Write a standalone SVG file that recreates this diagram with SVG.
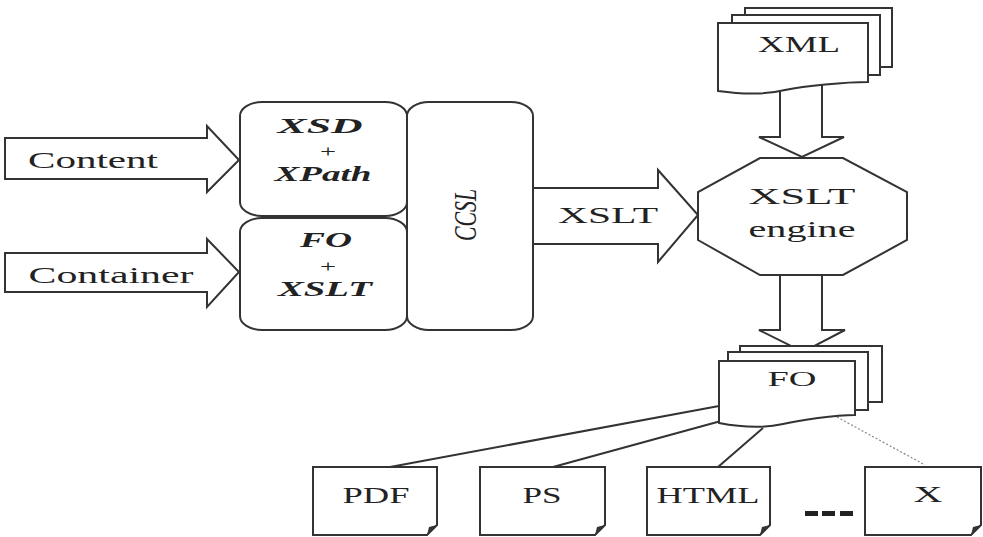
<svg xmlns="http://www.w3.org/2000/svg" width="983" height="537" viewBox="0 0 983 537">
<style>
.s{fill:#fff;stroke:#333;stroke-width:2;stroke-linejoin:miter}
.t{font-family:"Liberation Serif","Times New Roman",serif;fill:#222;text-anchor:middle}
.bi{font-weight:bold;font-style:italic}
.ln{fill:none;stroke:#333;stroke-width:2}
</style>
<rect width="983" height="537" fill="#fff"/>
<g id="connectors">
<path class="s" d="M5,138 H207 V126 L239,160 L207,192 V179 H5 Z"/>
<path class="s" d="M5,253 H207 V239 L239,272 L207,307 V292 H5 Z"/>
<path class="s" d="M533,188 H658 V170 L698,215 L658,262 V244 H533"/>
<path class="s" d="M780,85 V137 H759 L802,157 L844,137 H822 V85"/>
<path class="s" d="M780,275 V330 H759 L803,352 L845,330 H822 V275"/>
<line class="ln" x1="719" y1="406" x2="390" y2="467"/>
<line class="ln" x1="721" y1="421" x2="553" y2="467"/>
<line class="ln" x1="763" y1="428" x2="718" y2="467"/>
<line x1="837" y1="417" x2="925" y2="465" stroke="#888" stroke-width="1.2" stroke-dasharray="2,2"/>
</g>
<g id="content"><text class="t" x="93" y="168" font-size="24" textLength="130" lengthAdjust="spacingAndGlyphs">Content</text></g>
<g id="container"><text class="t" x="111" y="283" font-size="24" textLength="165" lengthAdjust="spacingAndGlyphs">Container</text></g>
<g id="xsd">
<rect class="s" x="240" y="102" width="167" height="114" rx="22" ry="14"/>
<text class="t bi" x="320" y="133" font-size="21" textLength="85" lengthAdjust="spacingAndGlyphs">XSD</text>
<text class="t" x="328" y="157" font-size="16" textLength="16" lengthAdjust="spacingAndGlyphs">+</text>
<text class="t bi" x="323" y="181" font-size="20" textLength="97" lengthAdjust="spacingAndGlyphs">XPath</text>
</g>
<g id="fo-xslt">
<rect class="s" x="240" y="218" width="167" height="112" rx="22" ry="14"/>
<text class="t bi" x="326" y="247" font-size="21" textLength="52" lengthAdjust="spacingAndGlyphs">FO</text>
<text class="t" x="328" y="272" font-size="16" textLength="16" lengthAdjust="spacingAndGlyphs">+</text>
<text class="t bi" x="325" y="296" font-size="20" textLength="94" lengthAdjust="spacingAndGlyphs">XSLT</text>
</g>
<g id="ccsl">
<rect class="s" x="407" y="102" width="126" height="228" rx="22" ry="14"/>
<text class="t" font-style="italic" font-size="20" transform="translate(476,215) scale(1.6,1) rotate(-90)" textLength="52" lengthAdjust="spacingAndGlyphs">CCSL</text>
</g>
<g id="xslt-label"><text class="t" x="608" y="223" font-size="24" textLength="100" lengthAdjust="spacingAndGlyphs">XSLT</text></g>
<g id="engine">
<polygon class="s" points="760,158 843,158 907,192 907,240 843,275 760,275 698,240 698,192"/>
<text class="t" x="802" y="204" font-size="24" textLength="107" lengthAdjust="spacingAndGlyphs">XSLT</text>
<text class="t" x="802" y="237" font-size="24" textLength="107" lengthAdjust="spacingAndGlyphs">engine</text>
</g>
<g id="xml">
<path class="s" d="M745,15 V8 H892 V67 H880"/>
<path class="s" d="M732,23 V15 H880 V75 H868"/>
<path class="s" d="M718,23 H868 V82 C845,82 805,86 785,90 C765,95 740,94 718,91 Z"/>
<text class="t" x="799" y="52" font-size="24" textLength="82" lengthAdjust="spacingAndGlyphs">XML</text>
</g>
<g id="fo">
<path class="s" d="M740,352 V346 H882 V402 H868"/>
<path class="s" d="M728,361 V352 H868 V410 H855"/>
<path class="s" d="M719,361 H855 V415 C835,415 800,420 783,424 C765,428 740,427 719,423 Z"/>
<text class="t" x="792" y="386" font-size="22" textLength="49" lengthAdjust="spacingAndGlyphs">FO</text>
</g>
<g id="pdf">
<path class="s" d="M313,467 H437 V525 L427,535 H313 Z"/>
<path d="M427,535 L429,527 L437,525 Z" fill="#333"/>
<text class="t" x="376" y="503" font-size="24" textLength="67" lengthAdjust="spacingAndGlyphs">PDF</text>
</g>
<g id="ps">
<path class="s" d="M480,467 H605 V525 L595,535 H480 Z"/>
<path d="M595,535 L597,527 L605,525 Z" fill="#333"/>
<text class="t" x="542" y="503" font-size="24" textLength="39" lengthAdjust="spacingAndGlyphs">PS</text>
</g>
<g id="html">
<path class="s" d="M647,467 H770 V525 L760,535 H647 Z"/>
<path d="M760,535 L762,527 L770,525 Z" fill="#333"/>
<text class="t" x="708" y="503" font-size="24" textLength="103" lengthAdjust="spacingAndGlyphs">HTML</text>
</g>
<g id="x">
<path class="s" d="M865,467 H981 V525 L971,535 H865 Z"/>
<path d="M971,535 L973,527 L981,525 Z" fill="#333"/>
<text class="t" x="928" y="502" font-size="24" textLength="29" lengthAdjust="spacingAndGlyphs">X</text>
</g>
<g id="ellipsis" fill="#222">
<rect x="805" y="511" width="13" height="5"/>
<rect x="822" y="511" width="13" height="5"/>
<rect x="840" y="511" width="13" height="5"/>
</g>
</svg>
